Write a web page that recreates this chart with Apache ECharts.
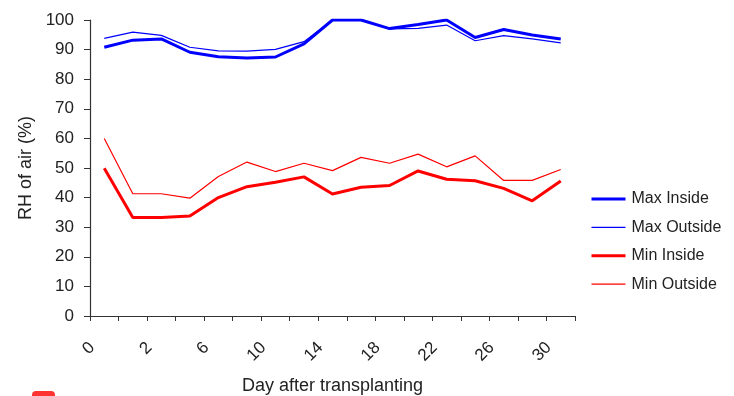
<!DOCTYPE html>
<html>
<head>
<meta charset="utf-8">
<script src="https://cdn.jsdelivr.net/npm/echarts@6/dist/echarts.min.js"></script>
<style>
  html, body { margin: 0; padding: 0; background: #fff; }
  #chart { width: 734px; height: 396px; }
</style>
</head>
<body>
<div id="chart"></div>
<script>
// Days after transplanting (one reading per category)
const days = ['0', '1', '2', '4', '6', '8', '10', '12', '14', '16', '18', '20', '22', '24', '26', '28', '30'];

// Relative humidity of air (%)
const maxInside  = [90.8, 93.2, 93.6, 89.1, 87.6, 87.2, 87.5, 91.9, 100, 100, 97.1, 98.5, 100, 94.1, 96.8, 94.9, 93.6];
const maxOutside = [93.8, 95.9, 94.8, 90.8, 89.6, 89.5, 90.1, 92.7, 100, 100, 97.0, 97.2, 98.3, 93.0, 94.7, 93.6, 92.3];
const minInside  = [49.9, 33.3, 33.3, 33.8, 40.0, 43.7, 45.2, 47.0, 41.2, 43.5, 44.1, 49.0, 46.2, 45.7, 43.1, 38.9, 45.6];
const minOutside = [60.0, 41.3, 41.3, 39.8, 47.1, 52.0, 48.8, 51.6, 49.1, 53.6, 51.6, 54.7, 50.4, 54.1, 45.8, 45.8, 49.5];

const yTicks = { min: 0, max: 100, step: 10 };

const FONT = '"Liberation Sans", Arial, Helvetica, sans-serif';
const INK = '#222';
const AXIS = '#333';
const BLUE = '#0000ff';
const RED = '#ff0000';
const THICK = 3;
const THIN = 1.2;

const chart = echarts.init(document.getElementById('chart'), null, { renderer: 'canvas' });

function lineSeries(name, data, color, width) {
  return {
    name: name,
    type: 'line',
    data: data,
    symbol: 'none',
    smooth: false,
    lineStyle: { color: color, width: width },
    itemStyle: { color: color },
    emphasis: { disabled: true },
    animation: false
  };
}

function legendItem(name, color, width) {
  return { name: name, lineStyle: { color: color, width: width } };
}

chart.setOption({
  animation: false,
  grid: {
    left: 90, right: 159, top: 20, bottom: 80,
    containLabel: false,
    outerBoundsMode: 'none'
  },
  legend: {
    orient: 'vertical',
    left: 585,
    top: 186,
    padding: 5,
    itemWidth: 34,
    itemHeight: 14,
    itemGap: 12.4,
    itemStyle: { opacity: 0 },
    textStyle: { fontFamily: FONT, fontSize: 16, color: INK, padding: [0, 0, 0, 1] },
    data: [
      legendItem('Max Inside', BLUE, THICK),
      legendItem('Max Outside', BLUE, THIN),
      legendItem('Min Inside', RED, THICK),
      legendItem('Min Outside', RED, THIN)
    ]
  },
  xAxis: {
    type: 'category',
    data: days,
    boundaryGap: true,
    name: 'Day after transplanting',
    nameLocation: 'middle',
    nameGap: 61,
    nameTextStyle: { fontFamily: FONT, fontSize: 18, color: INK },
    axisLine: { lineStyle: { color: AXIS, width: 1.2 } },
    axisTick: { show: true, length: 5, interval: 0, lineStyle: { color: AXIS } },
    axisLabel: {
      interval: 1,
      rotate: 45,
      margin: 17,
      padding: [0, 17, 0, 0],
      fontFamily: FONT,
      fontSize: 17,
      color: INK
    },
    splitLine: { show: false }
  },
  yAxis: {
    type: 'value',
    min: yTicks.min,
    max: yTicks.max,
    interval: yTicks.step,
    name: 'RH of air (%)',
    nameLocation: 'middle',
    nameGap: 55,
    nameRotate: 90,
    nameTextStyle: { fontFamily: FONT, fontSize: 18, color: INK },
    axisLine: { show: true, lineStyle: { color: AXIS, width: 1.2 } },
    axisTick: { show: true, length: 6, lineStyle: { color: AXIS } },
    axisLabel: { margin: 16, fontFamily: FONT, fontSize: 17, color: INK },
    splitLine: { show: false }
  },
  series: [
    lineSeries('Max Inside', maxInside, BLUE, THICK),
    lineSeries('Max Outside', maxOutside, BLUE, THIN),
    lineSeries('Min Inside', minInside, RED, THICK),
    lineSeries('Min Outside', minOutside, RED, THIN)
  ],
  graphic: [
    {
      type: 'rect',
      left: 32,
      top: 391,
      shape: { width: 23, height: 10, r: 4 },
      style: { fill: '#f33' },
      silent: true
    }
  ]
});
</script>
</body>
</html>
